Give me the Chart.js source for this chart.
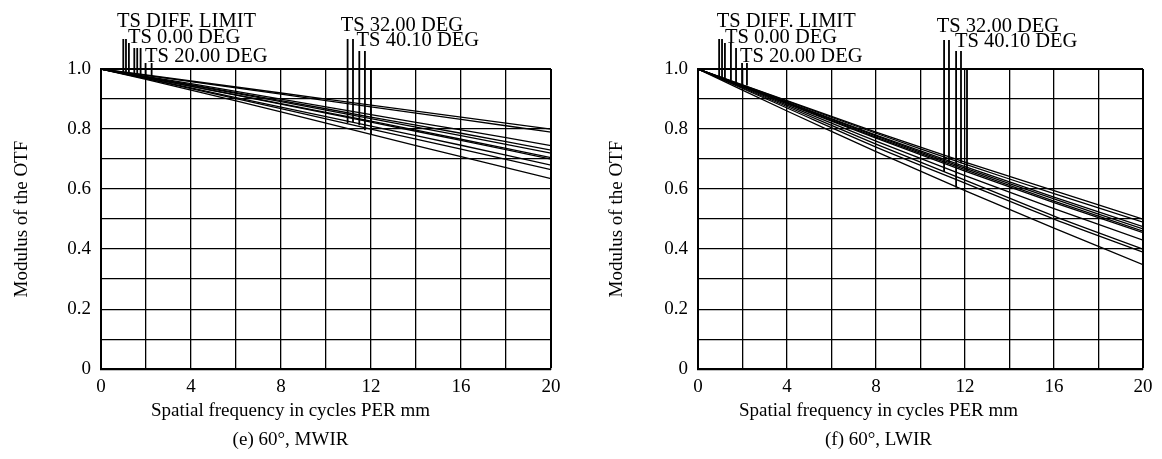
<!doctype html>
<html><head><meta charset="utf-8"><title>MTF 60 deg</title>
<script src="https://cdn.jsdelivr.net/npm/chart.js@4"></script>
<style>
body{margin:0;background:#fff;width:1162px;height:459px;overflow:hidden;position:relative}
.panel{position:absolute;top:0}
</style>
</head><body>
<div class="panel" style="left:0"><canvas id="mwir" width="581" height="459"></canvas></div>
<div class="panel" style="left:595px"><canvas id="lwir" width="567" height="459"></canvas></div>
<script>
// spatial frequency samples (cycles/mm)
const freq = [0, 4, 8, 12, 16, 20];

// (e) MWIR curves
const mwirDiffT = [1, 0.960, 0.920, 0.880, 0.840, 0.800];
const mwirDiffS = [1, 0.958, 0.916, 0.874, 0.832, 0.790];
const mwir0T    = [1, 0.951, 0.900, 0.848, 0.797, 0.745];
const mwir0S    = [1, 0.948, 0.895, 0.840, 0.786, 0.730];
const mwir20T   = [1, 0.946, 0.891, 0.835, 0.778, 0.720];
const mwir20S   = [1, 0.943, 0.885, 0.826, 0.766, 0.705];
const mwir32T   = [1, 0.942, 0.883, 0.823, 0.762, 0.700];
const mwir32S   = [1, 0.937, 0.873, 0.810, 0.746, 0.680];
const mwir40T   = [1, 0.935, 0.868, 0.800, 0.733, 0.665];
const mwir40S   = [1, 0.930, 0.857, 0.782, 0.708, 0.635];

// (f) LWIR curves
const lwirDiffT = [1, 0.895, 0.790, 0.690, 0.595, 0.500];
const lwirDiffS = [1, 0.893, 0.786, 0.683, 0.585, 0.490];
const lwir0T    = [1, 0.890, 0.780, 0.675, 0.573, 0.475];
const lwir0S    = [1, 0.888, 0.777, 0.670, 0.567, 0.467];
const lwir20T   = [1, 0.886, 0.773, 0.665, 0.560, 0.460];
const lwir20S   = [1, 0.884, 0.770, 0.660, 0.555, 0.455];
const lwir32T   = [1, 0.880, 0.760, 0.645, 0.535, 0.430];
const lwir32S   = [1, 0.875, 0.750, 0.630, 0.510, 0.400];
const lwir40T   = [1, 0.870, 0.740, 0.620, 0.500, 0.390];
const lwir40S   = [1, 0.860, 0.725, 0.595, 0.470, 0.348];

// legend leader lines: x, top, bottom (data units)
const mwirMarkX   = [0.99, 1.11, 1.24, 1.48, 1.61, 1.76, 1.98, 2.25, 10.96, 11.2, 11.48, 11.73, 12.0];
const mwirMarkTop = [1.10, 1.10, 1.087, 1.07, 1.07, 1.07, 1.02, 1.02, 1.10, 1.10, 1.06, 1.06, 1.0];
const mwirMarkBot = [0.99, 0.988, 0.987, 0.984, 0.983, 0.981, 0.978, 0.975, 0.82, 0.823, 0.813, 0.796, 0.78];

const lwirMarkX   = [0.95, 1.08, 1.21, 1.48, 1.71, 1.98, 2.2, 11.06, 11.28, 11.6, 11.82, 12.09];
const lwirMarkTop = [1.10, 1.10, 1.087, 1.087, 1.07, 1.02, 1.02, 1.097, 1.097, 1.06, 1.06, 1.0];
const lwirMarkBot = [0.976, 0.973, 0.97, 0.963, 0.957, 0.95, 0.945, 0.657, 0.69, 0.605, 0.686, 0.66];

// legend texts and their anchors (x, baseline value)
const legendText = ['TS DIFF. LIMIT', 'TS 0.00 DEG', 'TS 20.00 DEG', 'TS 32.00 DEG', 'TS 40.10 DEG'];
const mwirTextX = [0.71, 1.2, 1.96, 10.65, 11.36];
const mwirTextY = [1.141, 1.086, 1.024, 1.125, 1.075];
const lwirTextX = [0.84, 1.21, 1.89, 10.73, 11.55];
const lwirTextY = [1.141, 1.087, 1.023, 1.124, 1.074];

const FONT = "'Liberation Serif', 'Times New Roman', serif";
Chart.defaults.font.family = FONT;
Chart.defaults.font.size = 19;
Chart.defaults.color = '#000';

function toPts(vals){ return freq.map((f,i) => ({ x: f, y: vals[i] })); }

const legendPlugin = {
  id: 'tsLabels',
  afterDatasetsDraw(chart, args, opts){
    const ctx = chart.ctx, sx = chart.scales.x, sy = chart.scales.y;
    ctx.save();
    ctx.font = '20.5px ' + FONT;
    ctx.fillStyle = '#000';
    ctx.textBaseline = 'alphabetic';
    legendText.forEach((t,i) => {
      ctx.fillText(t, sx.getPixelForValue(opts.xs[i]), sy.getPixelForValue(opts.ys[i]));
    });
    ctx.restore();
  }
};

function makeChart(id, curves, markX, markTop, markBot, textX, textY, caption, yWidth, y2Width, yTitlePad){
  const datasets = curves.map(c => ({
    data: toPts(c), borderColor: '#000', borderWidth: 1.3, pointRadius: 0, fill: false, tension: 0.3
  }));
  markX.forEach((x,i) => {
    datasets.push({ data: [{x, y: markTop[i]}, {x, y: markBot[i]}], borderColor: '#000', borderWidth: 1.8,
      pointRadius: 0, fill: false, clip: false });
  });
  return new Chart(document.getElementById(id), {
    type: 'line',
    data: { datasets },
    plugins: [legendPlugin],
    options: {
      responsive: false, animation: false,
      layout: { padding: { top: 69, left: 0, right: 0, bottom: 7.6 } },
      plugins: {
        legend: { display: false }, tooltip: { enabled: false },
        // axis name sits just under the ticks, caption below it; both centred on the panel
        subtitle: { display: true, text: 'Spatial frequency in cycles PER mm', position: 'bottom',
          padding: { top: 3, bottom: 0 }, font: { size: 19 }, color: '#000' },
        title: { display: true, text: caption, position: 'bottom', padding: { top: 6.6, bottom: 0 },
          font: { size: 19, weight: 'normal' }, color: '#000' },
        tsLabels: { xs: textX, ys: textY }
      },
      scales: {
        x: {
          type: 'linear', min: 0, max: 20,
          afterFit: s => { s.height = 27; },
          ticks: { stepSize: 2, padding: 6, maxRotation: 0, callback: v => (v % 4 === 0 ? String(v) : '') },
          grid: { color: '#000', lineWidth: c => (c.tick && c.tick.value === 20 ? 2 : 1.3), drawTicks: false },
          border: { color: '#000', width: 2 }
        },
        y: {
          min: 0, max: 1,
          afterFit: s => { s.width = yWidth; },
          ticks: { stepSize: 0.1, padding: 10,
            callback: v => { const k = Math.round(v * 10); return k % 2 ? '' : (k === 0 ? '0' : (k / 10).toFixed(1)); } },
          grid: { color: '#000', lineWidth: c => (c.tick && Math.round(c.tick.value * 10) === 10 ? 2 : 1.3), drawTicks: false },
          border: { color: '#000', width: 2 },
          title: { display: true, text: 'Modulus of the OTF', padding: { top: yTitlePad, bottom: 0 } }
        },
        y2: {
          position: 'right', min: 0, max: 1,
          afterFit: s => { s.width = y2Width; },
          ticks: { display: false }, grid: { display: false }, border: { display: false }
        }
      }
    }
  });
}

makeChart('mwir',
  [mwirDiffT, mwirDiffS, mwir0T, mwir0S, mwir20T, mwir20S, mwir32T, mwir32S, mwir40T, mwir40S],
  mwirMarkX, mwirMarkTop, mwirMarkBot, mwirTextX, mwirTextY, '(e) 60°, MWIR', 101, 30, 10.6);

makeChart('lwir',
  [lwirDiffT, lwirDiffS, lwir0T, lwir0S, lwir20T, lwir20S, lwir32T, lwir32S, lwir40T, lwir40S],
  lwirMarkX, lwirMarkTop, lwirMarkBot, lwirTextX, lwirTextY, '(f) 60°, LWIR', 103, 19, 10.6);
</script>
</body></html>
